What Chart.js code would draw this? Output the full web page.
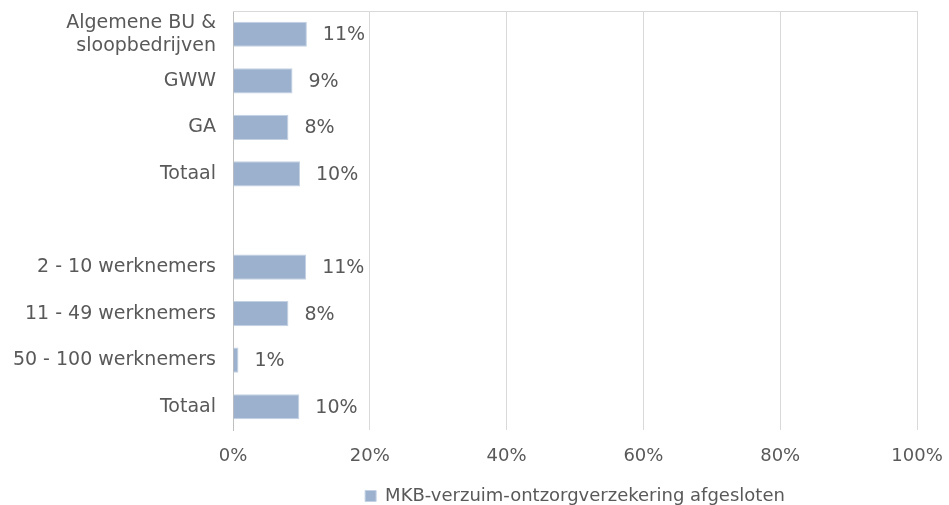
<!DOCTYPE html>
<html>
<head>
<meta charset="utf-8">
<script src="https://cdn.jsdelivr.net/npm/chart.js@4/dist/chart.umd.min.js"></script>
<style>
  html, body { margin: 0; padding: 0; background: #fff; }
  #wrap { width: 949px; height: 505px; }
</style>
</head>
<body>
<div id="wrap"><canvas id="mkbChart"></canvas></div>
<script>
// Data
const categories = [
    ['Algemene BU &', 'sloopbedrijven'],
    'GWW',
    'GA',
    'Totaal',
    '',
    '2 - 10 werknemers',
    '11 - 49 werknemers',
    '50 - 100 werknemers',
    'Totaal'
];
const seriesName = 'MKB-verzuim-ontzorgverzekering afgesloten';
const afgesloten = [10.8, 8.7, 8.1, 9.8, null, 10.7, 8.1, 0.8, 9.7];
const xTicks = [0, 20, 40, 60, 80, 100];

const textColor = '#595959';
const fontFamily = '"DejaVu Sans", Verdana, sans-serif';

// Labels at the end of the bars, top line of the plot, legend centred under the plot
const barLabels = {
    id: 'barLabels',
    afterLayout(chart) {
        const lg = chart.legend;
        if (lg) {
            lg.left = chart.chartArea.left;
            lg.right = chart.chartArea.right;
            lg.width = lg.right - lg.left;
            lg.top += 10;
            lg.bottom += 10;
        }
    },
    beforeDatasetsDraw(chart) {
        const a = chart.chartArea;
        const ctx = chart.ctx;
        ctx.save();
        ctx.strokeStyle = '#d9d9d9';
        ctx.lineWidth = 1;
        ctx.beginPath();
        ctx.moveTo(a.left, Math.round(a.top) + 0.5);
        ctx.lineTo(a.right, Math.round(a.top) + 0.5);
        ctx.stroke();
        ctx.restore();
    },
    afterDatasetsDraw(chart) {
        const ctx = chart.ctx;
        const meta = chart.getDatasetMeta(0);
        ctx.save();
        ctx.font = '19px ' + fontFamily;
        ctx.fillStyle = textColor;
        ctx.textAlign = 'left';
        ctx.textBaseline = 'middle';
        meta.data.forEach((bar, i) => {
            const v = afgesloten[i];
            if (v === null) return;
            ctx.fillText(Math.round(v) + '%', bar.x + 16, bar.y + 1);
        });
        ctx.restore();
    }
};

document.addEventListener('DOMContentLoaded', () => {
    const ctx = document.getElementById('mkbChart').getContext('2d');

    new Chart(ctx, {
        type: 'bar',
        data: {
            labels: categories,
            datasets: [{
                label: seriesName,
                data: afgesloten,
                backgroundColor: '#9bb1ce',
                borderColor: '#c3d1e3',
                borderWidth: 1,
                barPercentage: 0.54,
                categoryPercentage: 1.0
            }]
        },
        options: {
            indexAxis: 'y',
            responsive: true,
            maintainAspectRatio: false,
            animation: false,
            layout: { padding: { top: 11, right: 32, left: 0, bottom: 0 } },
            scales: {
                x: {
                    min: 0,
                    max: 100,
                    afterBuildTicks(scale) {
                        scale.ticks = xTicks.map(v => ({ value: v }));
                    },
                    afterFit(scale) {
                        scale.height = 46;
                        scale.paddingLeft = 0;
                        scale.paddingRight = 0;
                    },
                    grid: { color: '#d9d9d9', drawTicks: false },
                    border: { display: false },
                    ticks: {
                        color: textColor,
                        padding: 16,
                        font: { family: fontFamily, size: 18 },
                        callback: v => v + '%'
                    }
                },
                y: {
                    afterFit(scale) {
                        scale.width = 233;
                        scale.paddingTop = 0;
                        scale.paddingBottom = 0;
                    },
                    grid: { display: false, drawTicks: false },
                    border: { display: true, color: '#bfbfbf', width: 1 },
                    ticks: {
                        autoSkip: false,
                        color: textColor,
                        padding: 17,
                        font: { family: fontFamily, size: 19 }
                    }
                }
            },
            plugins: {
                legend: {
                    position: 'bottom',
                    labels: {
                        color: textColor,
                        boxWidth: 11,
                        boxHeight: 11,
                        padding: 1,
                        font: { family: fontFamily, size: 18 }
                    }
                },
                tooltip: { enabled: false }
            }
        },
        plugins: [barLabels]
    });
});
</script>
</body>
</html>
